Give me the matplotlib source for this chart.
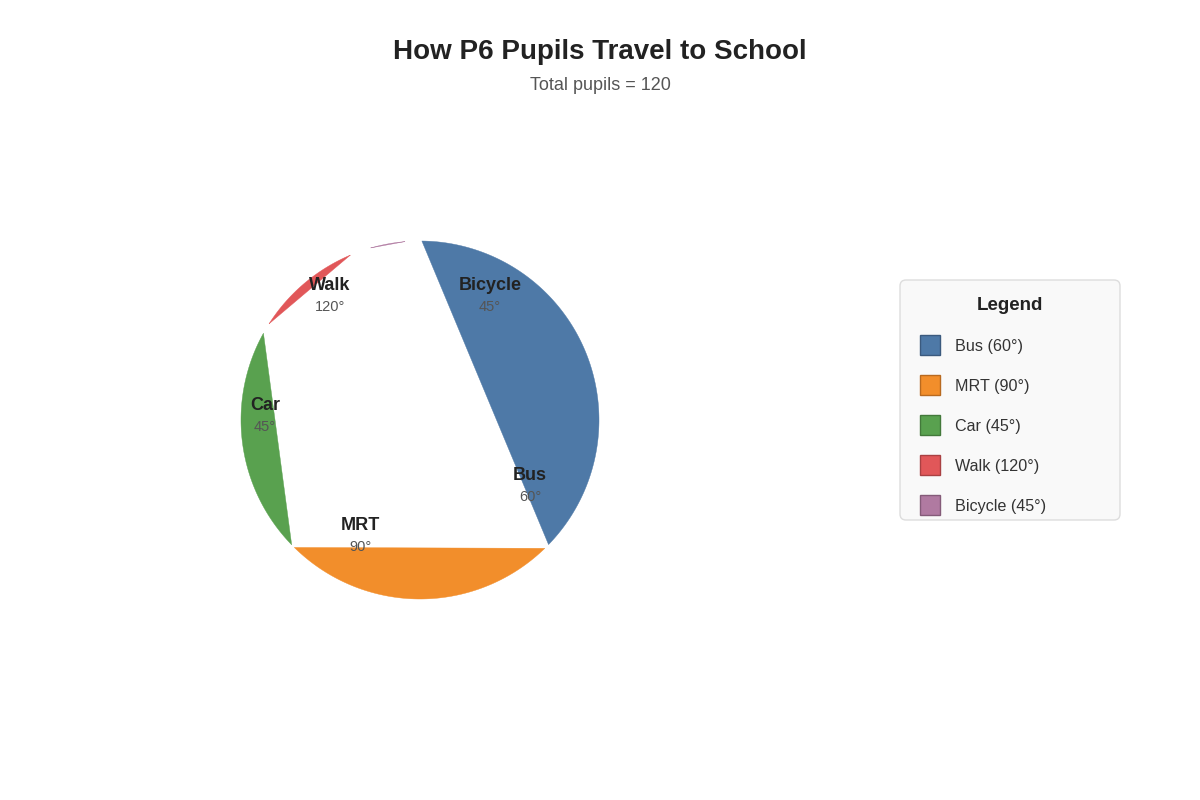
import matplotlib
matplotlib.use('Agg')
import matplotlib.pyplot as plt
import numpy as np
from matplotlib.patches import Polygon, FancyBboxPatch, Rectangle

plt.rcParams['font.family'] = ['Liberation Sans', 'DejaVu Sans']

# ----- Data -----
categories = ['Bus', 'MRT', 'Car', 'Walk', 'Bicycle']
degrees = [60, 90, 45, 120, 45]
colors = ['#4e79a7', '#f28e2b', '#59a14f', '#e15759', '#b07aa1']
edge_colors = ['#3b5a7e', '#b86a20', '#43793b', '#a94143', '#845b79']

# arc extents of each drawn segment, compass degrees
seg_start = [0.6, 135.8, 225.8, 302.5, 344.0]
seg_end = [134.1, 224.6, 299.0, 337.1, 355.2]

# label order as it appears on the chart
label_names = ['Bicycle', 'Bus', 'MRT', 'Car', 'Walk']
label_degs = ['45°', '60°', '90°', '45°', '120°']

# ----- Layout (pixel coordinates) -----
cx, cy, r = 420, 420, 179
label_x = [490, 530, 360, 265, 330]
label_y = [286, 476, 526, 406, 286]

fig = plt.figure(figsize=(12, 8), dpi=100)
ax = fig.add_axes([0, 0, 1, 1])
ax.set_xlim(0, 1200)
ax.set_ylim(800, 0)
ax.axis('off')

# ----- Segments (arc + chord) -----
for a0, a1, col in zip(seg_start, seg_end, colors):
    th = np.radians(np.linspace(a0, a1, 200))
    pts = np.column_stack([cx + r * np.sin(th), cy - r * np.cos(th)])
    ax.add_patch(Polygon(pts, closed=True, facecolor=col, edgecolor=col, lw=0.3))

# ----- Labels -----
for name, dg, x, y in zip(label_names, label_degs, label_x, label_y):
    ax.text(x, y, name, ha='center', va='center', fontsize=13, fontweight='bold', color='#222222')
    ax.text(x, y + 21, dg, ha='center', va='center', fontsize=10.5, color='#555555')

# ----- Title -----
ax.text(600, 52, 'How P6 Pupils Travel to School', ha='center', va='center',
        fontsize=20, fontweight='bold', color='#222222')
ax.text(600, 86, 'Total pupils = 120', ha='center', va='center', fontsize=13, color='#555555')

# ----- Legend -----
ax.add_patch(FancyBboxPatch((900, 280), 220, 240, boxstyle='round,pad=0,rounding_size=6',
                            facecolor='#f9f9f9', edgecolor='#dddddd', lw=1))
ax.text(1010, 306, 'Legend', ha='center', va='center', fontsize=13.5, fontweight='bold', color='#222222')
for i, (cat, dg, col, ec) in enumerate(zip(categories, degrees, colors, edge_colors)):
    yc = 345 + 40 * i
    ax.add_patch(Rectangle((920, yc - 10), 20, 20, facecolor=col, edgecolor=ec, lw=1))
    ax.text(955, yc + 1, f'{cat} ({dg}°)', ha='left', va='center', fontsize=11.6, color='#333333')

fig.savefig('out.png', dpi=100)
